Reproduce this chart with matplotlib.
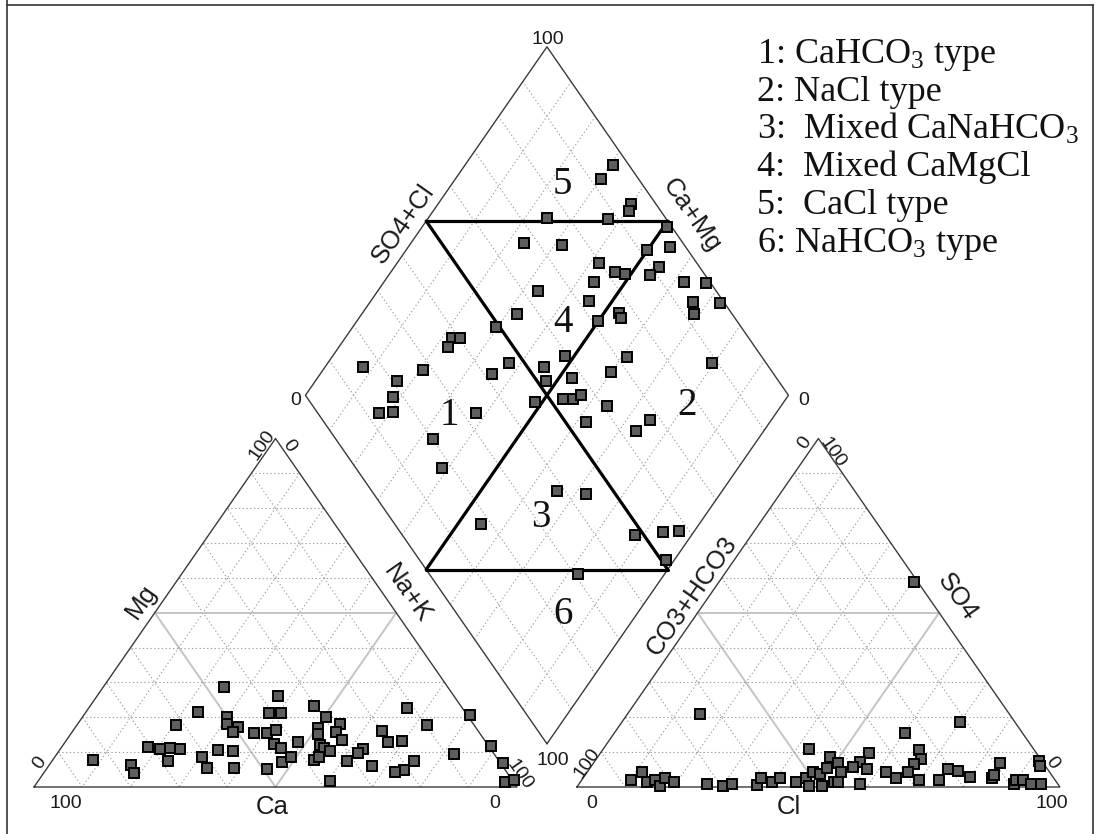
import numpy as np
import matplotlib
matplotlib.use("Agg")
import matplotlib.pyplot as plt
from matplotlib.lines import Line2D

plt.rcParams['mathtext.fontset'] = 'custom'
plt.rcParams['mathtext.rm'] = 'Liberation Serif'
plt.rcParams['mathtext.it'] = 'Liberation Serif:italic'
plt.rcParams['mathtext.default'] = 'rm'

# ---------------- data (percent of meq) ----------------
# Cation triangle: Mg and Na+K (Ca = 100 - Mg - Na+K)
cat_mg = [28.8, 26.1, 21.6, 23.2, 22.6, 20.7, 17.8, 20.2, 21.1, 21.3, 20.2, 18.1,
          17.3, 15.7, 15.4, 15.4, 16.4, 16.8, 18.1, 16.1, 17.8, 15.7, 15.1, 13.5,
          12.8, 13.3, 12.8, 12.3, 11.1, 12.1, 11.1, 10.3, 11.4, 10.8, 11.1, 10.8,
          10.6, 10.3, 10.8, 9.7, 9.5, 11.9, 7.7, 6.3, 4.1, 7.5, 8.5, 5.5,
          5.5, 5.2, 7.3, 8.5, 7.7, 8.5, 7.5, 6.1, 7.5, 4.9, 4.2, 1.7,
          6.8, 1.5, 2.0]
cat_nak = [25.0, 37.5, 23.2, 46.3, 65.9, 80.0, 20.6, 29.8, 38.1, 40.4, 50.4, 31.0,
           33.5, 33.4, 37.9, 40.5, 42.0, 50.3, 54.4, 64.1, 72.4, 54.7, 51.2, 57.1,
           66.8, 69.5, 48.3, 43.5, 45.5, 53.2, 54.4, 56.1, 17.8, 20.6, 22.6, 24.8,
           32.7, 36.1, 62.7, 62.2, 82.3, 88.7, 8.3, 17.0, 18.7, 23.9, 30.5, 33.0,
           38.7, 45.6, 47.6, 49.0, 54.1, 54.8, 61.1, 67.0, 74.9, 74.1, 72.6, 60.4,
           93.8, 96.8, 98.3]

# Anion triangle: SO4 and Cl (CO3+HCO3 = 100 - SO4 - Cl)
an_so4 = [58.9, 18.6, 15.4, 20.9, 10.9, 10.6, 8.0, 9.8, 8.7, 7.0, 7.3, 6.5,
          6.8, 7.5, 6.0, 4.4, 2.0, 1.5, 2.0, 0.4, 2.5, 1.5, 0.9, 0.3,
          0.9, 0.6, 2.5, 1.5, 2.5, 1.3, 2.5, 0.2, 4.2, 3.6, 5.4, 0.2,
          1.5, 1.3, 4.4, 5.8, 5.1, 0.8, 4.2, 2.5, 4.2, 2.0, 2.0, 5.1,
          4.6, 3.0, 2.7, 3.4, 0.8, 2.0, 2.0, 0.8, 0.8]
an_cl = [40.4, 70.0, 60.3, 15.1, 42.6, 65.6, 67.2, 55.6, 48.1, 50.6, 55.0, 66.6,
         84.3, 92.0, 92.8, 11.3, 10.3, 13.8, 15.2, 17.0, 17.0, 19.3, 26.5, 30.2,
         31.6, 36.9, 36.8, 39.7, 40.9, 44.7, 46.1, 47.9, 46.7, 48.6, 49.0, 50.6,
         52.4, 53.4, 52.4, 54.3, 57.5, 58.2, 61.9, 64.8, 66.4, 69.9, 73.9, 74.3,
         76.7, 79.8, 84.6, 84.7, 90.2, 90.0, 91.3, 93.7, 95.7]

# Diamond: SO4+Cl and Ca+Mg
dia_so4cl = [96.8, 92.1, 94.9, 93.5, 75.4, 88.0, 99.0, 67.2, 74.8, 91.6, 96.8, 79.8,
             81.8, 83.5, 91.6, 88.5, 76.0, 94.6, 99.0, 63.0, 72.4, 93.7, 99.0, 92.1,
             55.6, 76.7, 76.4, 71.2, 49.2, 38.6, 40.2, 36.5, 59.4, 72.0, 88.9, 46.8,
             41.6, 53.4, 16.0, 28.1, 21.0, 66.5, 57.6, 51.8, 17.9, 12.7, 15.8, 46.5,
             52.9, 54.8, 57.1, 32.9, 60.9, 67.8, 54.1, 63.3, 20.1, 17.9, 17.9, 38.4,
             44.0, 48.2, 54.4, 57.8, 51.0, 30.7]
dia_camg = [69.4, 69.9, 59.9, 59.5, 75.5, 62.6, 49.2, 76.6, 68.4, 50.0, 45.8, 58.2,
            53.6, 51.3, 45.2, 45.9, 56.6, 37.8, 33.3, 66.8, 54.8, 33.1, 27.5, 31.1,
            67.8, 46.9, 45.8, 50.0, 70.4, 77.8, 76.2, 77.3, 52.0, 39.0, 20.5, 62.6,
            64.4, 54.6, 92.0, 79.3, 83.2, 40.1, 47.4, 52.3, 81.5, 82.3, 79.4, 51.5,
            46.1, 44.2, 43.1, 62.1, 36.1, 25.2, 38.1, 26.5, 67.3, 61.3, 45.3, 34.2,
            27.8, 11.6, 6.4, 3.2, 1.8, 17.9]

region_labels = ["1", "2", "3", "4", "5", "6"]
legend_lines = ["1: CaHCO$_3$ type",
                "2: NaCl type",
                "3:  Mixed CaNaHCO$_3$",
                "4:  Mixed CaMgCl",
                "5:  CaCl type",
                "6: NaHCO$_3$ type"]

# ---------------- geometry ----------------
H = np.sqrt(3) / 2
GAP = 0.124


def cation_xy(mg, nak):
    mg = np.asarray(mg) / 100.0
    nak = np.asarray(nak) / 100.0
    return nak + mg / 2, mg * H


def anion_xy(so4, cl):
    so4 = np.asarray(so4) / 100.0
    cl = np.asarray(cl) / 100.0
    return 1 + GAP + cl + so4 / 2, so4 * H


def diamond_xy(s, c):
    s = np.asarray(s) / 100.0
    c = np.asarray(c) / 100.0
    return 1 + GAP / 2 + 0.5 * (s - c), GAP * H + H * (s + c)


fig = plt.figure(figsize=(11.01, 8.34), dpi=100)
ax = fig.add_axes([0, 0, 1, 1])
ax.set_xlim(-34 / 483, (1101 - 34) / 483)
ax.set_ylim(-(834 - 787) / 402.4, 787 / 402.4)
ax.axis('off')

EDGE = dict(color='#3a3a3a', lw=1.0, solid_capstyle='round', zorder=3)
DOT = dict(color='#a0a0a0', lw=0.8, linestyle=(0, (1.2, 2.2)), zorder=1)
MAJ = dict(color='#c4c4c4', lw=1.4, zorder=1)


def draw_triangle(A, B, C):
    A, B, C = map(np.asarray, (A, B, C))
    verts = [A, B, C]
    for i in range(3):
        P, Q, R = verts[i], verts[(i + 1) % 3], verts[(i + 2) % 3]
        for k in range(1, 10):
            t = k / 10
            p1 = P + t * (Q - P)
            p2 = P + t * (R - P)
            style = MAJ if k == 5 else DOT
            ax.plot([p1[0], p2[0]], [p1[1], p2[1]], **style)
    ax.plot([A[0], B[0], C[0], A[0]], [A[1], B[1], C[1], A[1]], **EDGE)


# cation triangle
cA, cB, cC = (0, 0), (1, 0), (0.5, H)
draw_triangle(cA, cB, cC)
# anion triangle
aA, aB, aC = (1 + GAP, 0), (2 + GAP, 0), (1.5 + GAP, H)
draw_triangle(aA, aB, aC)

# diamond grid
for k in range(1, 10):
    v = k * 10
    style = MAJ if k == 5 else DOT
    x, y = diamond_xy([v, v], [0, 100])
    ax.plot(x, y, **style)
    x, y = diamond_xy([0, 100], [v, v])
    ax.plot(x, y, **style)
dx, dy = diamond_xy([0, 100, 100, 0, 0], [0, 0, 100, 100, 0])
ax.plot(dx, dy, **EDGE)

# hydrochemical facies boundaries
THICK = dict(color='black', lw=2.3, zorder=4, solid_capstyle='round')
for s_pair, c_pair in [([50, 100], [100, 50]), ([0, 50], [50, 0]),
                       ([50, 50], [100, 0]), ([100, 0], [50, 50])]:
    x, y = diamond_xy(s_pair, c_pair)
    ax.plot(x, y, **THICK)

# samples
MK = dict(marker='s', linestyle='none', ms=6.5, mfc='#5e5e5e', mec='black',
          mew=1.4, zorder=5)
ax.plot(*cation_xy(cat_mg, cat_nak), **MK)
ax.plot(*anion_xy(an_so4, an_cl), **MK)
ax.plot(*diamond_xy(dia_so4cl, dia_camg), **MK)

# ---------------- text ----------------
SANS = 'Liberation Sans'
SERIF = 'Liberation Serif'
TICK = dict(fontsize=14, family=SANS, color='#1a1a1a',
            textcoords='offset pixels', zorder=6)
ROT = 55


def tick(s, xy, off, ha='center', va='center', rot=0):
    ax.annotate(s, xy=xy, xytext=off, ha=ha, va=va, rotation=rot,
                rotation_mode='anchor', **TICK)


# diamond vertices
dT = diamond_xy(100, 100)
dL = diamond_xy(0, 100)
dR = diamond_xy(100, 0)
dB = diamond_xy(0, 0)
tick("100", dT, (1, -1), va='bottom')
tick("0", dL, (-4, -5), ha='right')
tick("0", dR, (10, -5), ha='left')
tick("100", dB, (6, -8), va='top')

# bottom axes of the triangles
tick("100", cA, (32, -8), va='top')
tick("0", cB, (-22, -8), va='top')
tick("0", aA, (15, -8), va='top')
tick("100", aB, (-8, -8), va='top')

# rotated edge ticks
tick("0", cA, (6, 24), rot=ROT)
tick("100", cC, (-13, -7), rot=ROT)
tick("0", cC, (14, -7), rot=-ROT)
tick("100", cB, (3, 12), rot=-ROT)
tick("100", aA, (10, 24), rot=ROT)
tick("0", aC, (-14, -4), rot=ROT)
tick("100", aC, (14, -14), rot=-ROT)
tick("0", aB, (-8, 24), rot=-ROT)

# axis names
NAME = dict(fontsize=18.5, family=SANS, color='#1a1a1a',
            textcoords='offset pixels', ha='center', va='center',
            rotation_mode='anchor', zorder=6)
ax.annotate("Ca", xy=((cA[0] + cB[0]) / 2, 0), xytext=(-3, -8),
            **{**NAME, 'va': 'top'})
ax.annotate("Cl", xy=((aA[0] + aB[0]) / 2, 0), xytext=(-30, -8),
            **{**NAME, 'va': 'top'})
ax.annotate("Mg", xy=(0.25, H / 2), xytext=(-13, 11), rotation=ROT, **NAME)
ax.annotate("Na+K", xy=(0.75, H / 2), xytext=(11, 19), rotation=-ROT, **NAME)
ax.annotate("SO4+Cl", xy=diamond_xy(50, 100), xytext=(-23, -3), rotation=ROT, **NAME)
ax.annotate("Ca+Mg", xy=diamond_xy(100, 50), xytext=(24, 6), rotation=-ROT, **NAME)
ax.annotate("CO3+HCO3", xy=diamond_xy(50, 0), xytext=(24, -26), rotation=ROT, **NAME)
ax.annotate("SO4", xy=(1.75 + GAP, H / 2), xytext=(18, 16), rotation=-ROT, **NAME)

# facies numbers inside the diamond (SO4+Cl, Ca+Mg position)
region_pos = [(27.7, 67.9), (78.2, 20.2), (31.9, 34.3),
              (64.4, 57.8), (84.0, 77.8), (22.5, 15.9)]
for lab, (s, c) in zip(region_labels, region_pos):
    ax.text(*diamond_xy(s, c), lab, ha='center', va='center_baseline',
            fontsize=28, family=SERIF, color='#111111', zorder=6)

# legend of facies types
for i, line in enumerate(legend_lines):
    fig.text(757 / 1101, 1 - (63 + 37.8 * i) / 834, line, ha='left',
             va='baseline', fontsize=26, family=SERIF, color='#111111')

# frame around the figure
for xs, ys in [([7, 7], [0, 834]), ([7, 1093], [5, 5]), ([1093, 1093], [5, 834])]:
    fig.add_artist(Line2D([x / 1101 for x in xs], [1 - y / 834 for y in ys],
                          color='#333333', lw=1.2))

fig.savefig('out.png', dpi=100)
